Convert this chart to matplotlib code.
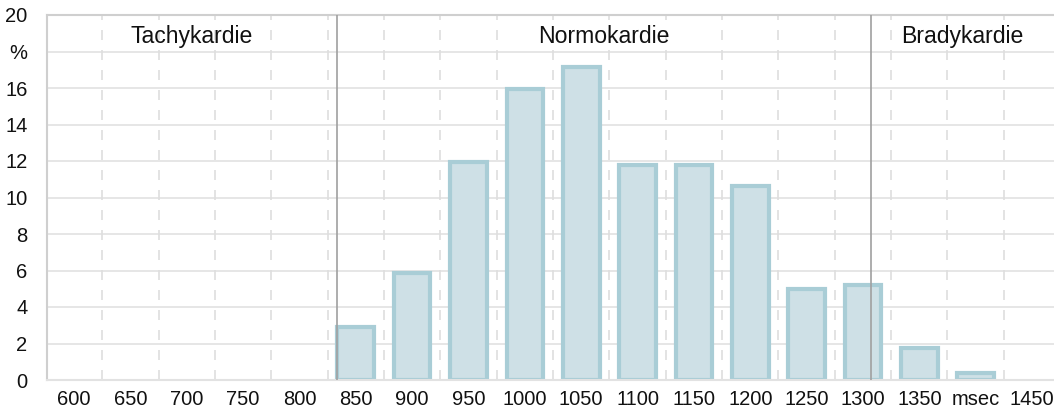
import matplotlib
matplotlib.use("Agg")
import matplotlib.pyplot as plt
import numpy as np

categories = ["600", "650", "700", "750", "800", "850", "900", "950", "1000", "1050",
              "1100", "1150", "1200", "1250", "1300", "1350", "msec", "1450"]
values = [0, 0, 0, 0, 0, 2.9, 5.85, 11.95, 15.95, 17.15,
          11.8, 11.8, 10.62, 5.0, 5.2, 1.75, 0.38, 0]
y_ticks = [0, 2, 4, 6, 8, 10, 12, 14, 16, 18, 20]
y_labels = ["0", "2", "4", "6", "8", "10", "12", "14", "16", "%", "20"]
zone_names = ["Tachykardie", "Normokardie", "Bradykardie"]
zone_bounds_ms = [833, 1307]  # thresholds in msec

plt.rcParams['font.family'] = ['Liberation Sans', 'DejaVu Sans']

W, H = 1054, 412
fig = plt.figure(figsize=(W / 100, H / 100), dpi=100)
left_px, right_px, top_px, bot_px = 47, 1054, 15, 380
ax = fig.add_axes([left_px / W, (H - bot_px) / H, (right_px - left_px) / W, (bot_px - top_px) / H])

x = np.arange(len(categories))
ax.set_xlim(-0.48, 17.39)
ax.set_ylim(0, 20)

# grid
for yv in y_ticks[1:-1]:
    ax.axhline(yv, color="#e2e2e2", lw=1.2, zorder=0)
for b in np.arange(len(categories) - 1) + 0.5:
    ax.axvline(b, color="#dedede", lw=1.2, ls=(0, (6, 6)), zorder=0)

vals = np.array(values, dtype=float)
nz = vals > 0
ax.bar(x[nz], vals[nz], width=0.65, color="#cee0e6", edgecolor="#a9cdd6", linewidth=3, zorder=2)

# zone thresholds
pos = [(v - 600) / 50 for v in zone_bounds_ms]
for p in pos:
    ax.axvline(p, color="#a0a0a0", lw=1.2, zorder=3)

xl, xr = ax.get_xlim()
edges = [xl] + pos + [xr]
for i, name in enumerate(zone_names):
    ax.text((edges[i] + edges[i + 1]) / 2, 18.8, name, ha="center", va="center",
            fontsize=16.6, color="#111111")

ax.spines["right"].set_visible(False)
for s in ["left", "top", "bottom"]:
    ax.spines[s].set_color("#cfcfcf")
    ax.spines[s].set_linewidth(1.5)
ax.spines["bottom"].set_color("#e2e2e2")

ax.set_yticks(y_ticks)
ax.set_yticklabels(y_labels, fontsize=14.5, color="#111111")
ax.set_xticks(x)
ax.set_xticklabels(categories, fontsize=14.5, color="#111111")
ax.tick_params(length=0)
ax.tick_params(axis="y", pad=14)
ax.tick_params(axis="x", pad=7)

fig.savefig("out.png", dpi=100)
